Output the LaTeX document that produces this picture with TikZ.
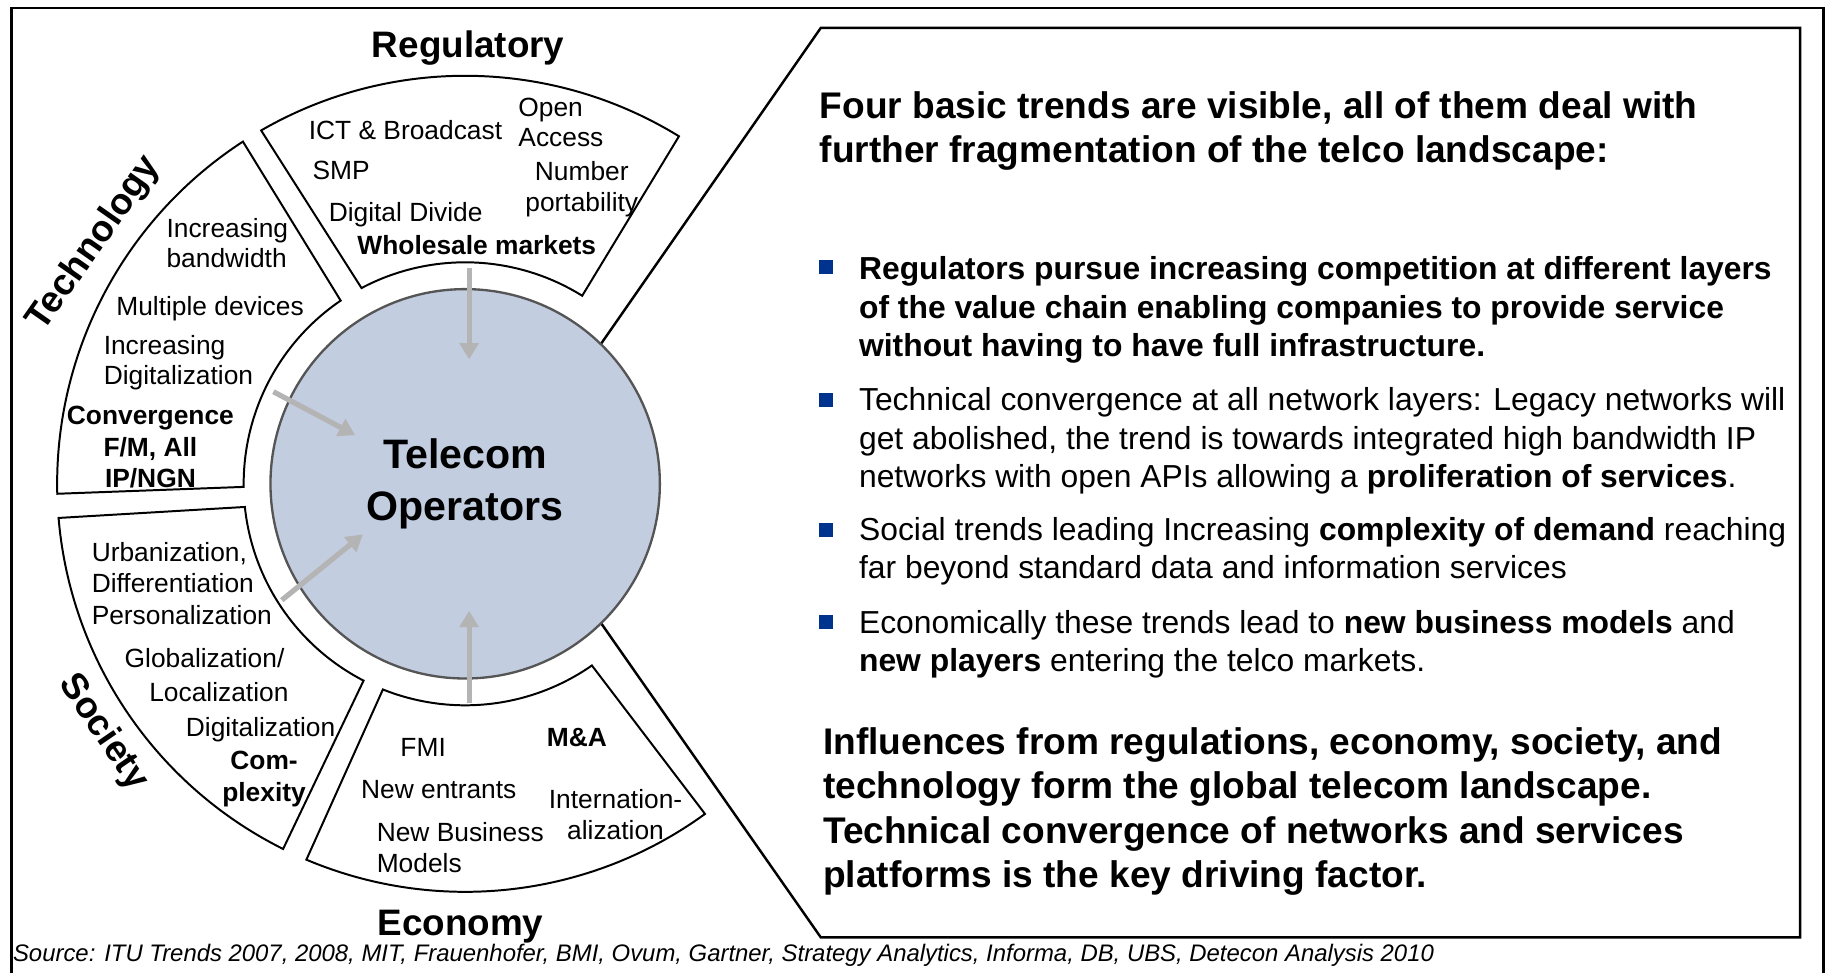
\documentclass[tikz,border=0pt]{standalone}
\usepackage{fontspec}
\setmainfont{Liberation Sans}
\usetikzlibrary{arrows.meta,calc}
\definecolor{opfill}{RGB}{194,205,224}
\definecolor{opline}{RGB}{85,85,85}
\definecolor{trendgray}{RGB}{180,180,180}
\definecolor{bulletblue}{RGB}{0,51,141}
\newcommand{\itemsize}{\fontsize{22.6}{26.6}\selectfont}
\newcommand{\titlesize}{\fontsize{31.6}{37}\selectfont\bfseries}
\newcommand{\headsize}{\fontsize{31.8}{37.3}\selectfont\bfseries}
\newcommand{\bulletsize}{\fontsize{27.3}{33.1}\selectfont}
\newcommand{\centersize}{\fontsize{35.3}{44.3}\selectfont\bfseries}
\newcommand{\sourcesize}{\fontsize{20.5}{24}\selectfont\itshape}
\begin{document}
\begin{tikzpicture}[x=1pt, y=1pt,
  sector/.style={draw, line width=1.7pt, fill=white},
  trend/.style={draw=trendgray, line width=4.5pt, -{Triangle[length=14pt, width=16pt]}},
  txt/.style={anchor=base west, align=left, inner sep=0pt, font=\itemsize},
  ctxt/.style={anchor=base, align=center, inner sep=0pt, font=\itemsize},
  title/.style={inner sep=0pt, font=\titlesize},
  para/.style={anchor=base west, align=left, inner sep=0pt},
  bul/.style={fill=bulletblue, minimum size=12pt, inner sep=0pt}]
\useasboundingbox (0,0) rectangle (1568,835);
\coordinate (C) at (399,420);
% frame and callout
\draw[line width=2.1pt] (10,0) -- (10,828) -- (1564,828) -- (1564,0);
\draw[line width=2.1pt] (704,811) -- (1544,811) -- (1544,31) -- (704,31) -- (432,420) -- cycle;
% sectors
\draw[sector] ([shift={(58.4:350)}]C) arc[start angle=58.4, end angle=120, radius=350]
  -- ([shift={(117.9:190)}]C) arc[start angle=117.9, end angle=58.1, radius=190] -- cycle;
\draw[sector] ([shift={(123:350)}]C) arc[start angle=123, end angle=181.4, radius=350]
  -- ([shift={(180.8:190)}]C) arc[start angle=180.8, end angle=124.2, radius=190] -- cycle;
\draw[sector] ([shift={(184.8:350)}]C) arc[start angle=184.8, end angle=243.5, radius=350]
  -- ([shift={(242.7:190)}]C) arc[start angle=242.7, end angle=186, radius=190] -- cycle;
\draw[sector] ([shift={(247.1:350)}]C) arc[start angle=247.1, end angle=306, radius=350]
  -- ([shift={(304.9:190)}]C) arc[start angle=304.9, end angle=248.2, radius=190] -- cycle;
% centre
\node[circle, draw=opline, fill=opfill, line width=2pt, minimum size=334pt, inner sep=0pt,
  align=center, font=\centersize] (ops) at (C) {Telecom\\Operators};
% arrows into the centre
\coordinate (regtail) at (402.4,605);
\coordinate (regtip) at (402.4,526.7);
\coordinate (techtail) at (234.5,499);
\coordinate (techtip) at (304.6,461.8);
\coordinate (soctail) at (241.7,320.2);
\coordinate (soctip) at (311.2,376.6);
\coordinate (ecotail) at (402.4,232);
\coordinate (ecotip) at (402.4,311);
\draw[trend] (regtail) -- (regtip);
\draw[trend] (techtail) -- (techtip);
\draw[trend] (soctail) -- (soctip);
\draw[trend] (ecotail) -- (ecotip);
% titles
\node[title, anchor=base] (reg) at (401.6,786) {Regulatory};
\node[title, anchor=base] (eco) at (395,32.5) {Economy};
\node[title, rotate=55] (tech) at ([shift={(147.1:378.8)}]C) {Technology};
\node[title, rotate=-55.5] (soc) at ([shift={(214.5:376.7)}]C) {Society};
% regulatory items (multi-line nodes sit on their last line)
\node[txt] (reg1) at (264.7,715.4) {ICT \& Broadcast};
\node[txt, font=\fontsize{22.6}{26.3}\selectfont] (reg2) at (444.5,709.1) {Open\\Access};
\node[txt] (reg3) at (268,681) {SMP};
\node[ctxt] (reg4) at (499,653.9) {Number\\portability};
\node[txt] (reg5) at (281.8,645.3) {Digital Divide};
\node[ctxt, font=\itemsize\bfseries] (reg6) at (409,616.7) {Wholesale markets};
% technology items
\node[txt, font=\fontsize{22.6}{25.6}\selectfont] (tech1) at (142.7,605.3) {Increasing\\bandwidth};
\node[txt] (tech2) at (99.6,564.4) {Multiple devices};
\node[txt, font=\fontsize{22.6}{25.8}\selectfont] (tech3) at (88.8,505.1) {Increasing\\Digitalization};
\node[ctxt, font=\fontsize{22.6}{27.2}\selectfont\bfseries] (tech4) at (129,416.5) {Convergence\\F/M, All\\IP/NGN};
% society items
\node[txt, font=\fontsize{22.6}{27.1}\selectfont] (soc1) at (78.5,299.3) {Urbanization,\\Differentiation\\Personalization};
\node[txt] (soc2) at (106.8,262.1) {Globalization/};
\node[txt] (soc3) at (127.9,233.5) {Localization};
\node[txt] (soc4) at (159.3,203.5) {Digitalization};
\node[ctxt, font=\fontsize{22.6}{27.2}\selectfont\bfseries] (soc5) at (226.5,147.7) {Com-\\plexity};
% economy items
\node[txt] (eco1) at (343.3,186.3) {FMI};
\node[txt, font=\itemsize\bfseries] (eco2) at (468.9,194.9) {M\&A};
\node[txt] (eco3) at (309.6,149.7) {New entrants};
\node[ctxt, font=\fontsize{22.6}{27.1}\selectfont] (eco4) at (528,114.8) {Internation-\\alization};
\node[txt, font=\fontsize{22.6}{27.2}\selectfont] (eco5) at (323,86.2) {New Business\\Models};
% text panel
\node[para, font=\headsize] (head) at (703,695.9) {Four basic trends are visible, all of them deal with\\further fragmentation of the telco landscape:};
\node[bul] (b1) at (708.5,605.6) {};
\node[bul] (b2) at (708.5,492) {};
\node[bul] (b3) at (708.5,380.1) {};
\node[bul] (b4) at (708.5,301.4) {};
\node[para, font=\bulletsize\bfseries] (p1) at (736.7,528.9) {Regulators pursue increasing competition at different layers\\of the value chain enabling companies to provide service\\without having to have full infrastructure.};
\node[para, font=\bulletsize] (p2) at (736.7,416.6) {Technical convergence at all network layers: Legacy networks will\\get abolished, the trend is towards integrated high bandwidth IP\\networks with open APIs allowing a \textbf{proliferation of services}.};
\node[para, font=\bulletsize] (p3) at (736.7,338.4) {Social trends leading Increasing \textbf{complexity of demand} reaching\\far beyond standard data and information services};
\node[para, font=\bulletsize] (p4) at (736.7,258.6) {Economically these trends lead to \textbf{new business models} and\\\textbf{new players} entering the telco markets.};
\node[para, font=\fontsize{31.8}{38.1}\selectfont\bfseries] (sum) at (705.9,73.6) {Influences from regulations, economy, society, and\\technology form the global telecom landscape.\\Technical convergence of networks and services\\platforms is the key driving factor.};
\node[para, font=\sourcesize] (src) at (11,10) {Source: ITU Trends 2007, 2008, MIT, Frauenhofer, BMI, Ovum, Gartner, Strategy Analytics, Informa, DB, UBS, Detecon Analysis 2010};
\end{tikzpicture}
\end{document}
